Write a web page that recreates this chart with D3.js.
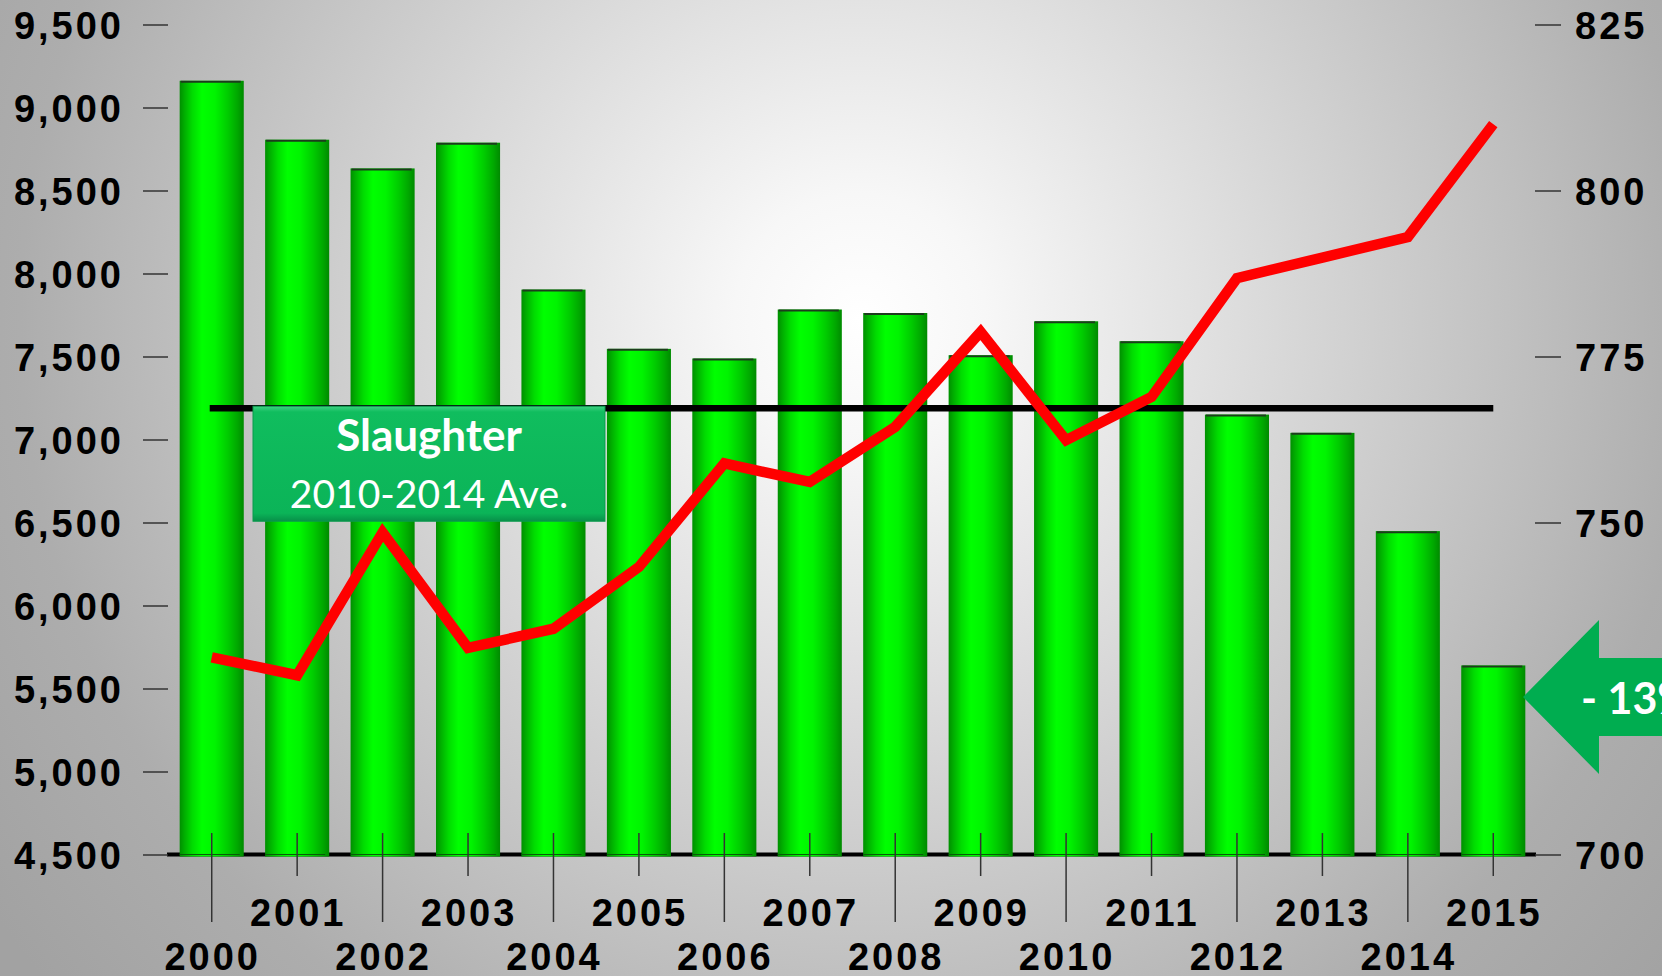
<!DOCTYPE html>
<html>
<head>
<meta charset="utf-8">
<script src="https://cdn.jsdelivr.net/npm/d3@7"></script>
<style>
	html, body { margin: 0; padding: 0; overflow: hidden; background: #d0d0d0; }
	svg { display: block; }
	.axis text { font-family: "Liberation Sans", Arial, sans-serif; font-weight: bold; font-size: 38px; letter-spacing: 3px; fill: #000; }
	.axis line { stroke: #333; stroke-width: 1.5; }
</style>
</head>
<body>
<div id="chart"></div>
<script>
	var width = 1662;
	var height = 976;

	// data
	var years = ["2000", "2001", "2002", "2003", "2004", "2005", "2006", "2007",
		"2008", "2009", "2010", "2011", "2012", "2013", "2014", "2015"];
	var slaughter = [9161, 8806, 8633, 8788, 7903, 7546, 7488, 7783,
		7762, 7508, 7712, 7592, 7150, 7040, 6448, 5639];
	var price = [729.7, 727, 748.5, 731.1, 734, 743.3, 758.9, 756.1,
		764.4, 778.7, 762.4, 768.9, 786.8, 789.9, 793, 810];
	var leftTicks = [4500, 5000, 5500, 6000, 6500, 7000, 7500, 8000, 8500, 9000, 9500];
	// 725 sits under the arrow in the picture, so it is not labelled
	var rightTicks = [700, 750, 775, 800, 825];
	var avgYears = ["2010", "2011", "2012", "2013", "2014"];
	var boxTitle = "Slaughter";
	var boxSub = "2010-2014 Ave.";
	var arrowLabel = "- 13%";

	var rows = years.map(function(d, i){
		return { year: d, head: slaughter[i], price: price[i] };
	});

	var plotLeft = 169, plotRight = 1536, plotTop = 24.5, plotBottom = 854.5;

	var x = d3.scaleBand()
		.domain(years)
		.range([plotLeft, plotRight])
		.paddingInner(0.25)
		.paddingOuter(0.125);

	var yLeft = d3.scaleLinear().domain([4500, 9500]).range([plotBottom, plotTop]);
	var yRight = d3.scaleLinear().domain([700, 825]).range([plotBottom, plotTop]);

	function cx(d){ return x(d) + x.bandwidth() / 2; }

	var svg = d3.select("#chart")
		.append("svg")
		.attr("width", width)
		.attr("height", height);

	var defs = svg.append("defs");

	var bg = defs.append("radialGradient")
		.attr("id", "bg")
		.attr("gradientUnits", "userSpaceOnUse")
		.attr("cx", 860).attr("cy", 320).attr("r", 1050);
	bg.append("stop").attr("offset", "0").attr("stop-color", "#ffffff");
	bg.append("stop").attr("offset", "0.12").attr("stop-color", "#f7f7f7");
	bg.append("stop").attr("offset", "0.8").attr("stop-color", "#adadad");
	bg.append("stop").attr("offset", "1").attr("stop-color", "#a2a2a2");

	var barGrad = defs.append("linearGradient")
		.attr("id", "barGrad")
		.attr("x1", "0").attr("x2", "1").attr("y1", "0").attr("y2", "0");
	[["0", "#008f00"], ["0.08", "#00b000"], ["0.2", "#00dc00"], ["0.35", "#00ff00"],
	 ["0.55", "#00f400"], ["0.75", "#00cc00"], ["0.9", "#00a800"], ["1", "#008a00"]]
		.forEach(function(s){
			barGrad.append("stop").attr("offset", s[0]).attr("stop-color", s[1]);
		});

	var boxGrad = defs.append("linearGradient")
		.attr("id", "boxGrad")
		.attr("x1", "0").attr("x2", "0").attr("y1", "0").attr("y2", "1");
	[["0", "#3fd283"], ["0.05", "#10bd5e"], ["0.93", "#0bb458"], ["1", "#079049"]]
		.forEach(function(s){
			boxGrad.append("stop").attr("offset", s[0]).attr("stop-color", s[1]);
		});

	svg.append("rect")
		.attr("width", width)
		.attr("height", height)
		.attr("fill", "url(#bg)");

	// baseline
	svg.append("line")
		.attr("x1", plotLeft - 2).attr("x2", plotRight)
		.attr("y1", plotBottom).attr("y2", plotBottom)
		.attr("stroke", "#000")
		.attr("stroke-width", 4);

	// bars
	var bars = svg.append("g").selectAll("g")
		.data(rows)
		.enter().append("g");

	bars.append("rect")
		.attr("x", function(d){ return x(d.year); })
		.attr("y", function(d){ return yLeft(d.head); })
		.attr("width", x.bandwidth())
		.attr("height", function(d){ return yLeft(4500) - yLeft(d.head) + 2; })
		.attr("fill", "url(#barGrad)");

	bars.append("line")
		.attr("x1", function(d){ return x(d.year) + 1; })
		.attr("x2", function(d){ return x(d.year) + x.bandwidth() - 3; })
		.attr("y1", function(d){ return yLeft(d.head) + 1; })
		.attr("y2", function(d){ return yLeft(d.head) + 1; })
		.attr("stroke", "#1d3b1d")
		.attr("stroke-width", 2);

	bars.append("line")
		.attr("x1", function(d){ return x(d.year); })
		.attr("x2", function(d){ return x(d.year) + x.bandwidth() - 4; })
		.attr("y1", plotBottom)
		.attr("y2", plotBottom)
		.attr("stroke", "#0a5a0a")
		.attr("stroke-width", 1);

	// left axis
	svg.append("g")
		.attr("class", "axis")
		.attr("transform", "translate(" + (plotLeft - 1) + ",0)")
		.call(d3.axisLeft(yLeft).tickValues(leftTicks).tickFormat(d3.format(",")).tickSize(25).tickPadding(19))
		.call(function(g){ g.select(".domain").remove(); })
		.selectAll("text").attr("dy", "0.36em");

	// right axis
	svg.append("g")
		.attr("class", "axis")
		.attr("transform", "translate(" + (plotRight - 1) + ",0)")
		.call(d3.axisRight(yRight).tickValues(rightTicks).tickFormat(d3.format("d")).tickSize(26).tickPadding(14))
		.call(function(g){ g.select(".domain").remove(); })
		.selectAll("text").attr("dy", "0.36em");

	// category ticks and staggered labels
	var cat = svg.append("g").attr("class", "axis");

	cat.selectAll("line")
		.data(years)
		.enter().append("line")
		.attr("x1", cx).attr("x2", cx)
		.attr("y1", 833)
		.attr("y2", function(d, i){ return i % 2 ? 876 : 922; });

	cat.selectAll("text")
		.data(years)
		.enter().append("text")
		.attr("x", function(d){ return cx(d) + 1; })
		.attr("y", function(d, i){ return i % 2 ? 926 : 970; })
		.attr("text-anchor", "middle")
		.text(function(d){ return d; });

	// 2010-2014 average line
	var avg = d3.mean(rows.filter(function(d){ return avgYears.indexOf(d.year) >= 0; }), function(d){ return d.head; });

	svg.append("line")
		.attr("x1", cx(years[0]) - 2)
		.attr("x2", cx(years[years.length - 1]))
		.attr("y1", yLeft(avg))
		.attr("y2", yLeft(avg))
		.attr("stroke", "#000")
		.attr("stroke-width", 6.5);

	// label box
	var boxTop = yLeft(avg) - 2;
	var box = svg.append("g");

	box.append("rect")
		.attr("x", 253)
		.attr("y", boxTop)
		.attr("width", 352)
		.attr("height", 115)
		.attr("fill", "url(#boxGrad)")
		.attr("stroke", "#0a9a4c")
		.attr("stroke-width", 1);

	box.append("text")
		.attr("x", 429)
		.attr("y", boxTop + 45)
		.attr("text-anchor", "middle")
		.attr("font-family", "Lato, 'Open Sans', sans-serif")
		.attr("font-weight", "bold")
		.attr("font-size", 44)
		.attr("fill", "#fff")
		.text(boxTitle);

	box.append("text")
		.attr("x", 429)
		.attr("y", boxTop + 102)
		.attr("text-anchor", "middle")
		.attr("font-family", "Lato, 'Open Sans', sans-serif")
		.attr("font-size", 39)
		.attr("fill", "#fff")
		.text(boxSub);

	// price line
	var line = d3.line()
		.x(function(d){ return cx(d.year); })
		.y(function(d){ return yRight(d.price); });

	svg.append("path")
		.datum(rows)
		.attr("d", line)
		.attr("fill", "none")
		.attr("stroke", "#ff0000")
		.attr("stroke-width", 10.5)
		.attr("stroke-linejoin", "miter");

	// arrow callout
	var arrow = svg.append("g");

	arrow.append("path")
		.attr("d", "M1523,697 L1599,620 L1599,658 L1680,658 L1680,736 L1599,736 L1599,774 Z")
		.attr("fill", "#00ad50");

	arrow.append("text")
		.attr("x", 1581)
		.attr("y", 714)
		.attr("font-family", "Lato, 'Open Sans', sans-serif")
		.attr("font-weight", "bold")
		.attr("font-size", 43)
		.attr("fill", "#fff")
		.text(arrowLabel);
</script>
</body>
</html>
